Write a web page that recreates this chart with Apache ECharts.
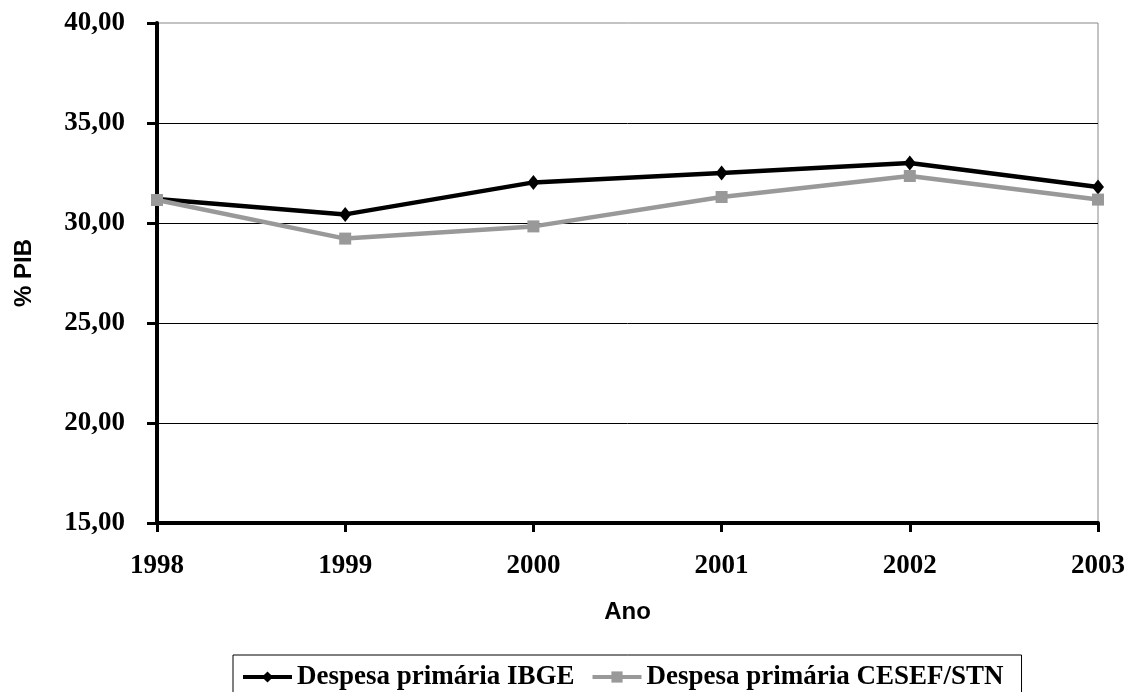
<!DOCTYPE html>
<html>
<head>
<meta charset="utf-8">
<script src="https://cdn.jsdelivr.net/npm/echarts@6/dist/echarts.min.js"></script>
<style>
  html, body { margin: 0; padding: 0; background: #fff; }
  #chart { width: 1128px; height: 692px; }
</style>
</head>
<body>
<div id="chart"></div>
<script>
// Despesa primária em % do PIB, 1998–2003
const anos = ['1998', '1999', '2000', '2001', '2002', '2003'];
const despesaIBGE = [31.20, 30.43, 32.03, 32.50, 33.00, 31.80];
const despesaCESEF = [31.15, 29.22, 29.83, 31.30, 32.35, 31.17];
const nomeIBGE = 'Despesa primária IBGE';
const nomeCESEF = 'Despesa primária CESEF/STN';

const serif = 'Liberation Serif, Times New Roman, serif';
const sans = 'Liberation Sans, Arial, sans-serif';

const chart = echarts.init(document.getElementById('chart'), null, { renderer: 'canvas' });

chart.setOption({
  animation: false,
  backgroundColor: '#fff',
  grid: {
    left: 157, right: 30, top: 23, bottom: 169,
    show: true, borderColor: '#888', borderWidth: 1
  },
  legend: {
    left: 233, top: 655,
    orient: 'horizontal',
    padding: [7, 18, 20, 8],
    borderColor: '#000', borderWidth: 1,
    itemWidth: 49, itemHeight: 14, itemGap: 16,
    lineStyle: { width: 4 },
    textStyle: { fontFamily: serif, fontWeight: 'bold', fontSize: 27, color: '#000', lineHeight: 30 },
    data: [nomeIBGE, nomeCESEF]
  },
  xAxis: {
    type: 'category',
    data: anos,
    boundaryGap: false,
    name: 'Ano',
    nameLocation: 'middle',
    nameGap: 77,
    nameTextStyle: { fontFamily: sans, fontWeight: 'bold', fontSize: 24, color: '#000' },
    axisLine: { lineStyle: { color: '#000', width: 4 } },
    axisTick: { show: true, length: 9, lineStyle: { color: '#000', width: 3 } },
    axisLabel: { margin: 30, fontFamily: serif, fontWeight: 'bold', fontSize: 27, color: '#000' },
    splitLine: { show: false }
  },
  yAxis: {
    type: 'value',
    min: 15, max: 40, interval: 5,
    name: '% PIB',
    nameLocation: 'middle',
    nameGap: 121,
    nameRotate: 90,
    nameTextStyle: { fontFamily: sans, fontWeight: 'bold', fontSize: 24, color: '#000' },
    axisLine: { show: true, lineStyle: { color: '#000', width: 4 } },
    axisTick: { show: true, length: 10, lineStyle: { color: '#000', width: 3 } },
    axisLabel: {
      margin: 32, fontFamily: serif, fontWeight: 'bold', fontSize: 27, color: '#000',
      formatter: v => v.toFixed(2).replace('.', ',')
    },
    splitLine: { show: true, showMaxLine: false, showMinLine: false, lineStyle: { color: '#000', width: 1 } }
  },
  series: [
    {
      name: nomeIBGE,
      type: 'line',
      data: despesaIBGE,
      symbol: 'diamond',
      symbolSize: [12, 15],
      lineStyle: { color: '#000', width: 4.5 },
      itemStyle: { color: '#000' }
    },
    {
      name: nomeCESEF,
      type: 'line',
      data: despesaCESEF,
      symbol: 'rect',
      symbolSize: 12,
      lineStyle: { color: '#999', width: 4.5 },
      itemStyle: { color: '#999' }
    }
  ]
});
</script>
</body>
</html>
